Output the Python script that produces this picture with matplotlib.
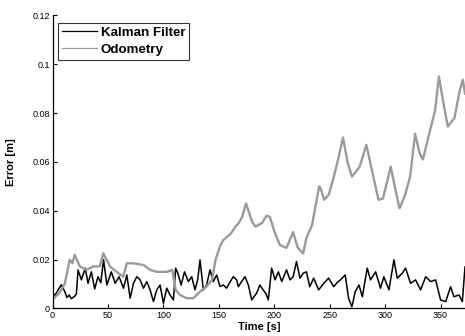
import matplotlib
matplotlib.use("Agg")
import matplotlib.pyplot as plt

plt.rcParams['font.family'] = ['Liberation Sans', 'DejaVu Sans']

# Kalman filter error
kf_t = [0, 3, 5, 8, 11, 13, 15, 17, 20, 21.5, 23, 26, 29.5, 32, 35, 38, 41, 43.5, 46, 49,
        53, 56.5, 60, 64, 67, 70, 73, 76, 79, 82, 85, 88, 91, 94, 97, 100, 103, 106, 109, 111,
        113, 116, 119, 122.5, 125.5, 128.5, 131, 133, 136, 139, 142, 145, 148, 151, 154, 157,
        160, 163, 166, 167.6, 170.5, 173.6, 176.6, 179.6, 182, 184, 187, 190, 192.5, 194.6,
        197.6, 200.7, 203.7, 206.7, 211, 214.2, 217, 220, 223.2, 226, 229, 232, 235.5, 240,
        244.6, 249, 253.6, 256.5, 259.6, 264, 267, 270, 273, 276.4, 279.4, 283.8, 286.8,
        291.4, 295.8, 298.8, 303.4, 307.9, 310.9, 315.4, 318.4, 322.9, 327.4, 332, 336.5,
        341, 345.5, 350, 354.6, 359, 362, 366.6, 369.6, 372]
kf_err = [0.0048, 0.006, 0.0076, 0.0097, 0.0069, 0.0045, 0.0055, 0.004, 0.005, 0.006, 0.0158,
          0.0117, 0.0165, 0.0103, 0.015, 0.008, 0.013, 0.0105, 0.02, 0.0096,
          0.015, 0.0103, 0.013, 0.0083, 0.0137, 0.0042, 0.0103, 0.013, 0.0117, 0.0083, 0.011,
          0.0076, 0.0028, 0.0076, 0.0096, 0.0021, 0.0083, 0.0055, 0.0035, 0.0165,
          0.0144, 0.0096, 0.015, 0.011, 0.013, 0.0076, 0.012, 0.0199, 0.0076, 0.0096, 0.0158,
          0.011, 0.0137, 0.009, 0.0096, 0.0083,
          0.0108, 0.013, 0.0117, 0.0089, 0.011, 0.013, 0.0096, 0.0035, 0.005, 0.0062, 0.0096,
          0.0076, 0.006, 0.0035,
          0.0165, 0.0117, 0.015, 0.011, 0.0158, 0.0117, 0.013, 0.0192, 0.0124, 0.0144, 0.015,
          0.0089, 0.0124, 0.0076,
          0.0103, 0.0124, 0.0089, 0.0105, 0.0117, 0.0137, 0.0041, 0.0007, 0.0069, 0.0096,
          0.0048, 0.0165, 0.0117,
          0.015, 0.0083, 0.013, 0.0076, 0.0199, 0.0124, 0.0144, 0.0165, 0.0103, 0.0117, 0.0076,
          0.013, 0.011, 0.0117, 0.0035, 0.0028, 0.0089, 0.0048, 0.0055, 0.0028, 0.017]

# Odometry error
odo_t = [0, 3, 6, 11, 15.5, 18, 20, 24.6, 30.6, 36.6, 42.6, 45.8, 51.8, 57.8, 63.8, 67, 73,
         82, 88, 94, 103, 108, 111, 115, 121, 127, 133, 139, 143.8, 147, 151, 154, 160.5, 165,
         168, 171, 174.5, 180, 183, 189, 193, 196, 200.5, 205, 211, 217, 221, 226, 229, 234,
         237, 240.5, 242, 245, 249, 253, 257.5, 262, 266, 270, 277, 283, 288, 294, 298, 305,
         310, 313, 318, 322.5, 327, 331, 334, 340, 345, 348.5, 352, 356.5, 362.5, 367, 370, 372]
odo_err = [0.0035, 0.005, 0.0062, 0.01, 0.02, 0.0185, 0.022, 0.0172, 0.0158, 0.0172, 0.0172,
           0.0226, 0.0172, 0.015, 0.013, 0.0185, 0.0185,
           0.0178, 0.0158, 0.015, 0.015, 0.0158, 0.0076, 0.0055, 0.0042, 0.0042, 0.0069, 0.009,
           0.0117, 0.0199, 0.0255, 0.028, 0.0305, 0.0335,
           0.035, 0.0375, 0.043, 0.0355, 0.0335, 0.035, 0.038, 0.0375, 0.031, 0.026, 0.0248,
           0.0313, 0.025, 0.0225, 0.029, 0.034,
           0.0415, 0.05, 0.049, 0.0445, 0.0465, 0.0527, 0.061, 0.070, 0.06, 0.054, 0.058, 0.067,
           0.0567, 0.0445, 0.045, 0.058,
           0.047, 0.041, 0.0465, 0.054, 0.0715, 0.0637, 0.061, 0.072, 0.081, 0.095, 0.0855,
           0.0745, 0.078, 0.0887, 0.0937, 0.088]

x_ticks = [0, 50, 100, 150, 200, 250, 300, 350]
y_ticks = [0, 0.02, 0.04, 0.06, 0.08, 0.1, 0.12]
y_tick_labels = ['0', '0.02', '0.04', '0.06', '0.08', '0.1', '0.12']

fig = plt.figure(figsize=(4.65, 3.36), dpi=100)
ax = fig.add_axes([0.113, 0.082, 0.887, 0.872])

ax.plot(kf_t, kf_err, color='black', lw=1.1, label='Kalman Filter')
ax.plot(odo_t, odo_err, color='#9a9a9a', lw=1.7, label='Odometry')

ax.set_xlim(0, 372)
ax.set_ylim(0, 0.12)
ax.set_xticks(x_ticks)
ax.set_yticks(y_ticks)
ax.set_yticklabels(y_tick_labels)
ax.tick_params(direction='in', length=3, width=0.8, labelsize=6.5, pad=2)

for side in ['top', 'right']:
    ax.spines[side].set_visible(False)
for side in ['left', 'bottom']:
    ax.spines[side].set_linewidth(0.9)

ax.set_xlabel('Time [s]', fontsize=8, fontweight='bold')
ax.set_ylabel('Error [m]', fontsize=8, fontweight='bold')
ax.xaxis.set_label_coords(0.5, -0.045)
ax.yaxis.set_label_coords(-0.088, 0.5)

leg = ax.legend(loc='upper left', bbox_to_anchor=(0.013, 0.975),
                prop={'weight': 'bold', 'size': 9.6}, frameon=True, fancybox=False,
                handlelength=2.6, handletextpad=0.3, borderpad=0.3, labelspacing=0.35,
                borderaxespad=0)
leg.get_frame().set_edgecolor('black')
leg.get_frame().set_linewidth(0.8)
# thin handles, as in the original
for ln in leg.get_lines():
    ln.set_linewidth(0.9)

fig.savefig('out.png', dpi=100)
